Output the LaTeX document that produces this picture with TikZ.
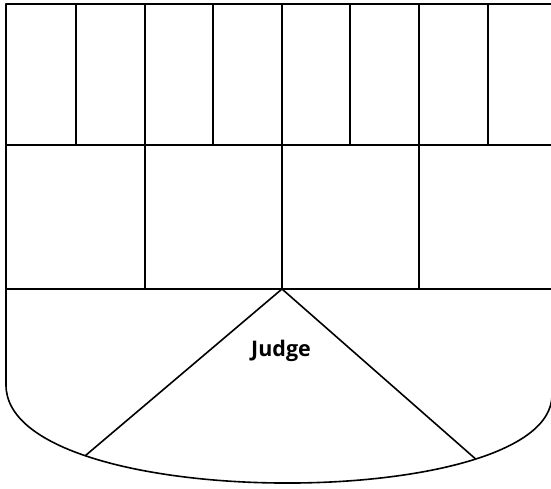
\documentclass[tikz,border=0pt]{standalone}
\usepackage{fontspec}
\setsansfont{Open Sans}
\usetikzlibrary{positioning}
\def\wl{6}
\def\wr{552}
\tikzstyle{wall}=[draw,line width=1.6pt,line join=round]
\tikzstyle{label}=[font=\sffamily\bfseries\fontsize{21.5}{24}\selectfont]

\begin{document}
\begin{tikzpicture}[x=1pt,y=-1pt]
    \useasboundingbox (0,0) rectangle (551,488);
    % rows of seats
    \draw[wall] (\wl,4) rectangle (\wr,289);
    \draw[wall] (\wl,145) -- (\wr,145);
    \foreach \x in {76,145,213,282,350,419,488}
        \draw[wall] (\x,4) -- (\x,145);
    \foreach \x in {145,282,419}
        \draw[wall] (\x,145) -- (\x,289);
    % bench
    \coordinate (top) at (282,289);
    \draw[wall] (\wl,289) -- (\wl,385)
        .. controls (\wl,514) and (\wr,514) .. (\wr,395)
        coordinate[pos=0.24] (jl) coordinate[pos=0.765] (jr)
        -- (\wr,289);
    \draw[wall] (jl) -- (top) -- (jr);
    \node[label] (judge) at (281,351) {Judge};
\end{tikzpicture}
\end{document}
